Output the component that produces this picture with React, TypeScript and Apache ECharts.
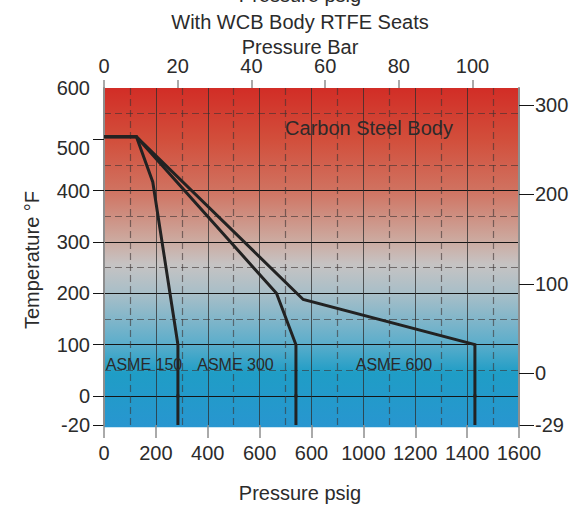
import React, { useEffect, useRef } from "react";
import * as echarts from "echarts";

// ---- data ----
const psigTicks = [0, 200, 400, 600, 800, 1000, 1200, 1400, 1600];
const psigTickLabels = ["0", "200", "400", "600", "600", "1000", "1200", "1400", "1600"];
const barTicks = [0, 20, 40, 60, 80, 100];
const fahrenheitTicks = [0, 100, 200, 300, 400, 500];
const fahrenheitLowTicks = [-20];
const celsiusTicks = [0, 100, 200, 300];
const celsiusLowTicks = [-29];

const asme150 = [[0, 505], [125, 505], [188, 417], [285, 100], [285, -20]];
const asme300 = [[0, 505], [125, 505], [665, 200], [740, 100], [740, -20]];
const asme600 = [[0, 505], [125, 505], [768, 188], [1430, 100], [1430, -20]];
const seriesNames = ["ASME 150", "ASME 300", "ASME 600"];
const seriesData = [asme150, asme300, asme600];

const titleLines = ["Pressure psig", "With WCB Body RTFE Seats", "Pressure Bar"];
const xTitle = "Pressure psig";
const yTitle = "Temperature °F";
const bodyLabel = "Carbon Steel Body";

// axis ranges
const psigMax = 1600;
const barMax = 112.6;
const fMax = 600;
const fLowMin = -20;
const cTop = 319;
const cMid = -25.4;
const cLow = -29;

const FONT = '"Liberation Sans", Arial, Helvetica, sans-serif';
const TXT = "#2b2b2b";

export default function App() {
  const ref = useRef<HTMLDivElement>(null);
  useEffect(() => {
    if (!ref.current) return;
    const chart = echarts.init(ref.current, null, { renderer: "svg" });
    const label = { fontFamily: FONT, fontSize: 20, color: TXT };
    const solidV = { color: "rgba(45,45,45,0.75)", width: 1 };
    const solidH = { color: "#151515", width: 1 };
    const dashed = { color: "rgba(60,50,50,0.6)", width: 1.2, type: [7, 4] as any };
    const border = { color: "#8e8e8e", width: 2 };
    const greyTick = { color: "#8e8e8e", width: 1.5 };
    const blackTick = { color: "#151515", width: 1 };

    // layout (pixels)
    const L = 104, R = 519, T = 88, MID = 396, B = 425;
    const plotW = R - L;

    const series: any[] = [];
    seriesData.forEach((d, i) => {
      series.push({
        type: "line", name: seriesNames[i], data: d, xAxisIndex: 0, yAxisIndex: 0,
        symbol: "none", clip: true, lineStyle: { color: "#222", width: 3, join: "miter" }, z: 5,
      });
      series.push({
        type: "line", name: seriesNames[i], data: d, xAxisIndex: 2, yAxisIndex: 2,
        symbol: "none", clip: true, lineStyle: { color: "#222", width: 3, join: "miter" }, z: 5,
      });
    });

    const bg = new echarts.graphic.LinearGradient(0, 0, 0, 1, [
      { offset: 0, color: "#d22d26" },
      { offset: 0.15, color: "#d24e3b" },
      { offset: 0.3, color: "#d07260" },
      { offset: 0.45, color: "#ccaaa0" },
      { offset: 0.52, color: "#c6c3c3" },
      { offset: 0.61, color: "#a6bec8" },
      { offset: 0.75, color: "#5eaecb" },
      { offset: 0.84, color: "#1f9dc6" },
      { offset: 1, color: "#2896d0" },
    ]);

    const noZero = { onZero: false };

    chart.setOption({
      animation: false,
      grid: [
        { left: L, top: T, width: plotW, height: MID - T, show: false },
        { left: L, top: MID, width: plotW, height: B - MID, show: false },
      ],
      xAxis: [
        {
          gridIndex: 0, type: "value", min: 0, max: psigMax, interval: 200, position: "bottom",
          axisLine: { show: false, ...noZero }, axisTick: { show: false }, axisLabel: { show: false },
          splitLine: { show: true, lineStyle: solidV },
          minorTick: { show: false, splitNumber: 2 },
          minorSplitLine: { show: true, lineStyle: dashed },
        },
        {
          gridIndex: 0, type: "value", min: 0, max: barMax, position: "top",
          axisLine: { show: false, ...noZero },
          axisTick: { show: true, customValues: barTicks, length: 8, lineStyle: greyTick },
          axisLabel: { customValues: barTicks, margin: 12, ...label },
          splitLine: { show: false },
        },
        {
          gridIndex: 1, type: "value", min: 0, max: psigMax, interval: 200, position: "bottom",
          axisLine: { show: false, ...noZero },
          axisTick: { show: true, length: 13, lineStyle: greyTick },
          axisLabel: {
            margin: 18, ...label,
            formatter: (v: number) => {
              const i = psigTicks.indexOf(v);
              return i >= 0 ? psigTickLabels[i] : "";
            },
          },
          splitLine: { show: true, lineStyle: solidV },
          minorTick: { show: false, splitNumber: 2 },
          minorSplitLine: { show: true, lineStyle: dashed },
        },
      ],
      yAxis: [
        {
          gridIndex: 0, type: "value", min: 0, max: fMax, interval: 100, position: "left",
          axisLine: { show: true, lineStyle: border, ...noZero },
          axisTick: { show: true, customValues: fahrenheitTicks, length: 11, lineStyle: blackTick },
          axisLabel: {
            margin: 14, ...label,
            formatter: (v: number) => (v === 500 ? "{lo|" + v + "}" : String(v)),
            rich: { lo: { fontFamily: FONT, fontSize: 20, color: TXT, padding: [18, 0, 0, 0] } },
          },
          splitLine: { show: true, showMaxLine: false, lineStyle: solidH },
          minorTick: { show: false, splitNumber: 2 },
          minorSplitLine: { show: true, lineStyle: dashed },
        },
        {
          gridIndex: 0, type: "value", min: cMid, max: cTop, position: "right",
          axisLine: { show: true, lineStyle: border, ...noZero },
          axisTick: { show: true, customValues: celsiusTicks, length: 15, lineStyle: blackTick },
          axisLabel: { customValues: celsiusTicks, margin: 16, ...label },
          splitLine: { show: false },
        },
        {
          gridIndex: 1, type: "value", min: fLowMin, max: 0, interval: 20, position: "left",
          axisLine: { show: true, lineStyle: border, ...noZero },
          axisTick: { show: true, customValues: fahrenheitLowTicks, length: 11, lineStyle: blackTick },
          axisLabel: { customValues: fahrenheitLowTicks, margin: 14, ...label },
          splitLine: { show: true, showMaxLine: false, lineStyle: solidH },
        },
        {
          gridIndex: 1, type: "value", min: cLow, max: cMid, position: "right",
          axisLine: { show: true, lineStyle: border, ...noZero },
          axisTick: { show: true, customValues: celsiusLowTicks, length: 15, lineStyle: blackTick },
          axisLabel: { customValues: celsiusLowTicks, margin: 16, ...label },
          splitLine: { show: false },
        },
      ],
      graphic: [
        {
          type: "rect", z: -10, silent: true,
          shape: { x: L, y: T, width: plotW, height: 427.3 - T },
          style: { fill: bg },
        },
        ...titleLines.map((t, i) => ({
          type: "text", x: 300, y: [-5, 21.7, 47][i], z: 100,
          style: { text: t, fontFamily: FONT, fontSize: 20, fill: TXT, align: "center", verticalAlign: "middle" },
        })),
        {
          type: "text", x: 300, y: 492.5, z: 100,
          style: { text: xTitle, fontFamily: FONT, fontSize: 20, fill: TXT, align: "center", verticalAlign: "middle" },
        },
        {
          type: "text", x: 32, y: 260, rotation: Math.PI / 2, z: 100,
          style: { text: yTitle, fontFamily: FONT, fontSize: 20, fill: TXT, align: "center", verticalAlign: "middle" },
        },
        {
          type: "text", x: 369, y: 128, z: 100,
          style: { text: bodyLabel, fontFamily: FONT, fontSize: 20, fill: "#2e2a2a", align: "center", verticalAlign: "middle" },
        },
        ...seriesNames.map((n, i) => ({
          type: "text", x: [144, 235.5, 394][i], y: 364, z: 100,
          style: { text: n, fontFamily: FONT, fontSize: 16, fill: "#2a2a2a", align: "center", verticalAlign: "middle" },
        })),
      ],
      series,
    });
    return () => chart.dispose();
  }, []);
  return (
    <div
      ref={ref}
      style={{ position: "fixed", left: 0, top: 0, width: 577, height: 505, background: "#fff" }}
    />
  );
}
